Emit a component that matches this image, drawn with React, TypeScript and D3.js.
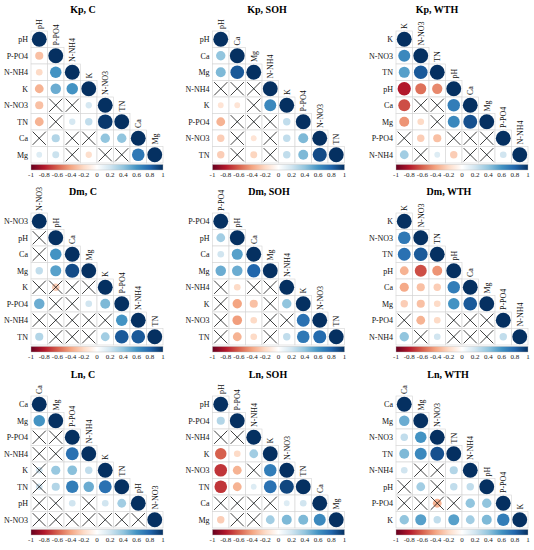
import * as d3 from "d3";

// corrplot RdBu palette
const rdBu = ["#67001F", "#B2182B", "#D6604D", "#F4A582", "#FDDBC7", "#FFFFFF", "#D1E5F0", "#92C5DE", "#4393C3", "#2166AC", "#053061"];
const cbTicks = ["-1", "-0.8", "-0.6", "-0.4", "-0.2", "0", "0.2", "0.4", "0.6", "0.8", "1"];

// lower triangle: row i holds r(i, j) for j < i ; mask "x" = not significant
const kpCVars = ["pH", "P-PO4", "N-NH4", "K", "N-NO3", "TN", "Ca", "Mg"];
const kpCVals = [
  [-0.3],
  [-0.2, 0.6],
  [-0.35, 0.5, 0.6],
  [-0.3, 0.05, 0.05, 0.18],
  [-0.35, 0.03, 0.18, 0.25, 0.97],
  [0.03, 0.3, 0.05, 0.05, 0.4, 0.4],
  [0.15, 0.22, 0.05, -0.18, 0.05, 0.05, 0.72],
];
const kpCIns = [".", "..", "...", ".xx.", ".x...", "x.xx..", "..x.xx."];

const kpSohVars = ["pH", "Ca", "Mg", "N-NH4", "K", "P-PO4", "N-NO3", "TN"];
const kpSohVals = [
  [0.4],
  [0.45, 0.85],
  [0.05, 0.05, 0.05],
  [-0.15, -0.15, 0.05, 0.65],
  [-0.35, 0.05, 0.05, 0.05, 0.25],
  [-0.25, 0.05, -0.15, 0.05, 0.25, 0.45],
  [-0.25, 0.05, -0.22, 0.05, 0.25, 0.45, 0.9],
];
const kpSohIns = [".", "..", "xxx", "..x.", ".xxx.", ".x.x..", ".x.x..."];

const kpWthVars = ["K", "N-NO3", "TN", "pH", "Ca", "Mg", "P-PO4", "N-NH4"];
const kpWthVals = [
  [0.65],
  [0.55, 0.85],
  [-0.8, -0.55, -0.48],
  [-0.65, 0.05, 0.05, 0.7],
  [-0.45, -0.2, 0.05, 0.65, 0.88],
  [0.05, -0.25, -0.3, 0.05, 0.05, 0.05],
  [0.35, 0.05, 0.15, -0.25, 0.05, 0.05, 0.2],
];
const kpWthIns = [".", "..", "...", ".xx.", "..x..", "x..xxx", ".x..xx."];

const dmCVars = ["N-NO3", "pH", "Ca", "Mg", "K", "P-PO4", "N-NH4", "TN"];
const dmCVals = [
  [0.05],
  [0.05, 0.6],
  [0.25, 0.55, 0.9],
  [0.05, -0.25, 0.05, 0.05],
  [0.5, 0.05, 0.05, 0.2, 0.45],
  [0.05, 0.05, 0.05, 0.05, 0.05, 0.6],
  [0.3, 0.05, 0.05, 0.05, 0.35, 0.85, 0.85],
];
const dmCIns = ["x", "x.", "...", "xxxx", ".xx..", "xxxxx.", ".xxx..."];

const dmSohVars = ["P-PO4", "pH", "Ca", "Mg", "N-NH4", "K", "N-NO3", "TN"];
const dmSohVals = [
  [0.35],
  [0.2, 0.55],
  [0.5, 0.5, 0.8],
  [0.05, -0.2, 0.05, 0.05],
  [0.05, -0.4, -0.3, 0.05, 0.4],
  [0.05, -0.42, -0.2, 0.05, 0.05, 0.75],
  [0.05, -0.35, -0.2, 0.05, 0.25, 0.72, 0.78],
];
const dmSohIns = [".", "..", "...", "x.xx", "x..x.", "x..xx.", "x..x..."];

const dmWthVars = ["K", "N-NO3", "TN", "pH", "Ca", "Mg", "P-PO4", "N-NH4"];
const dmWthVals = [
  [0.72],
  [0.75, 0.85],
  [-0.35, -0.65, -0.45],
  [-0.38, -0.3, -0.25, 0.7],
  [-0.25, -0.3, -0.2, 0.6, 0.85],
  [0.05, -0.35, -0.2, 0.05, 0.05, 0.05],
  [0.4, 0.05, 0.2, 0.05, 0.05, 0.05, 0.25],
];
const dmWthIns = [".", "..", "...", "....", ".....", "x..xxx", ".x.xxx."];

const lnCVars = ["Ca", "Mg", "P-PO4", "N-NH4", "K", "TN", "pH", "N-NO3"];
const lnCVals = [
  [0.6],
  [0.05, 0.05],
  [0.05, 0.05, 0.75],
  [0.2, 0.38, 0.42, 0.25],
  [0.2, 0.3, 0.7, 0.5, 0.75],
  [0.05, 0.05, 0.2, 0.05, 0.2, 0.35],
  [0.05, 0.05, 0.05, 0.05, 0.05, 0.05, 0.05],
];
const lnCIns = [".", "xx", "xx.", "x...", "x....", "xx.x..", "xxxxxxx"];

const lnSohVars = ["pH", "P-PO4", "N-NH4", "K", "N-NO3", "TN", "Ca", "Mg"];
const lnSohVals = [
  [0.3],
  [0.05, 0.05],
  [-0.6, -0.2, 0.35],
  [-0.72, -0.35, 0.05, 0.7],
  [-0.72, -0.35, 0.15, 0.75, 0.92],
  [0.05, 0.05, 0.05, 0.05, 0.15, 0.2],
  [-0.25, 0.05, 0.05, 0.35, 0.45, 0.45, 0.65],
];
const lnSohIns = [".", "xx", "...", "..x.", ".....", "xxxx..", ".xx...."];

const lnWthVars = ["Ca", "Mg", "N-NO3", "TN", "N-NH4", "pH", "P-PO4", "K"];
const lnWthVals = [
  [0.5],
  [0.25, 0.6],
  [0.45, 0.65, 0.88],
  [0.2, 0.05, 0.05, 0.3],
  [0.05, 0.35, 0.05, 0.25, 0.25],
  [0.05, 0.05, -0.35, 0.05, 0.4, 0.4],
  [0.4, 0.55, 0.25, 0.55, 0.35, 0.45, 0.7],
];
const lnWthIns = [".", "..", "...", ".xx.", "x.x..", "xxxx..", "......."];

const panels = [
  { title: "Kp, C", vars: kpCVars, vals: kpCVals, ins: kpCIns },
  { title: "Kp, SOH", vars: kpSohVars, vals: kpSohVals, ins: kpSohIns },
  { title: "Kp, WTH", vars: kpWthVars, vals: kpWthVals, ins: kpWthIns },
  { title: "Dm, C", vars: dmCVars, vals: dmCVals, ins: dmCIns },
  { title: "Dm, SOH", vars: dmSohVars, vals: dmSohVals, ins: dmSohIns },
  { title: "Dm, WTH", vars: dmWthVars, vals: dmWthVals, ins: dmWthIns },
  { title: "Ln, C", vars: lnCVars, vals: lnCVals, ins: lnCIns },
  { title: "Ln, SOH", vars: lnSohVars, vals: lnSohVals, ins: lnSohIns },
  { title: "Ln, WTH", vars: lnWthVars, vals: lnWthVals, ins: lnWthIns },
];

// layout
const gridLeft = [31, 212.5, 396];
const gridTop = [31, 213, 396];
const titleX = [83, 267, 437, 83, 269, 449, 83, 268, 448];
const cell = 16.5;
const font = "'Liberation Serif', 'Times New Roman', serif";

const color = d3
  .scaleLinear<string>()
  .domain(d3.range(11).map((i) => -1 + i * 0.2))
  .range(rdBu);

function Panel({ p, idx }: { p: (typeof panels)[number]; idx: number }) {
  const x0 = gridLeft[idx % 3];
  const y0 = gridTop[Math.floor(idx / 3)];
  const n = p.vars.length;
  const band = d3.scaleBand<number>().domain(d3.range(n)).range([0, n * cell]);
  const cx = (j: number) => x0 + band(j)! + cell / 2;
  const cy = (i: number) => y0 + band(i)! + cell / 2;
  const rScale = d3.scaleSqrt().domain([0, 1]).range([0, cell * 0.45]);
  const cbScale = d3.scaleLinear().domain([-1, 1]).range([x0, x0 + n * cell]);
  const bottom = y0 + n * cell;

  const cells: { i: number; j: number; v: number; x: boolean }[] = [];
  for (let i = 0; i < n; i++) {
    for (let j = 0; j < i; j++) cells.push({ i, j, v: p.vals[i - 1][j], x: p.ins[i - 1][j] === "x" });
    cells.push({ i, j: i, v: 1, x: false });
  }
  const h = cell * 0.4;

  return (
    <g fontFamily={font}>
      <text x={titleX[idx]} y={y0 - 18} textAnchor="middle" fontWeight="bold" fontSize={10}>
        {p.title}
      </text>
      {cells.map((c, k) => (
        <g key={k}>
          <rect x={cx(c.j) - cell / 2} y={cy(c.i) - cell / 2} width={cell} height={cell} fill="white" stroke="#d4d4d4" strokeWidth={0.6} />
          <circle cx={cx(c.j)} cy={cy(c.i)} r={rScale(Math.abs(c.v))} fill={color(c.v)} />
          {c.x && (
            <path
              d={`M${cx(c.j) - h},${cy(c.i) - h}L${cx(c.j) + h},${cy(c.i) + h}M${cx(c.j) - h},${cy(c.i) + h}L${cx(c.j) + h},${cy(c.i) - h}`}
              stroke="#111"
              strokeWidth={0.8}
            />
          )}
        </g>
      ))}
      {p.vars.map((v, i) => (
        <text key={"r" + i} x={x0 - 3} y={cy(i)} dy="0.35em" textAnchor="end" fontSize={8} fill="#111">
          {v}
        </text>
      ))}
      {p.vars.map((v, j) => (
        <text
          key={"c" + j}
          transform={`translate(${cx(j)},${y0 + band(j)! - 2}) rotate(-90)`}
          dy="0.35em"
          textAnchor="start"
          fontSize={8}
          fill="#111"
        >
          {v}
        </text>
      ))}
      <rect x={x0} y={bottom + 1.5} width={n * cell} height={5.5} fill="url(#cbGrad)" stroke="#bbb" strokeWidth={0.4} />
      {cbTicks.map((t) => (
        <text key={t} x={cbScale(+t)} y={bottom + 14} textAnchor="middle" fontSize={7} fill="#222">
          {t}
        </text>
      ))}
    </g>
  );
}

export default function App() {
  return (
    <svg width={534} height={550} style={{ position: "absolute", left: 0, top: 0, background: "white" }}>
      <defs>
        <linearGradient id="cbGrad" x1="0" x2="1" y1="0" y2="0">
          {rdBu.map((c, i) => (
            <stop key={i} offset={`${i * 10}%`} stopColor={c} />
          ))}
        </linearGradient>
      </defs>
      <rect width={534} height={550} fill="white" />
      {panels.map((p, i) => (
        <Panel key={p.title} p={p} idx={i} />
      ))}
    </svg>
  );
}
